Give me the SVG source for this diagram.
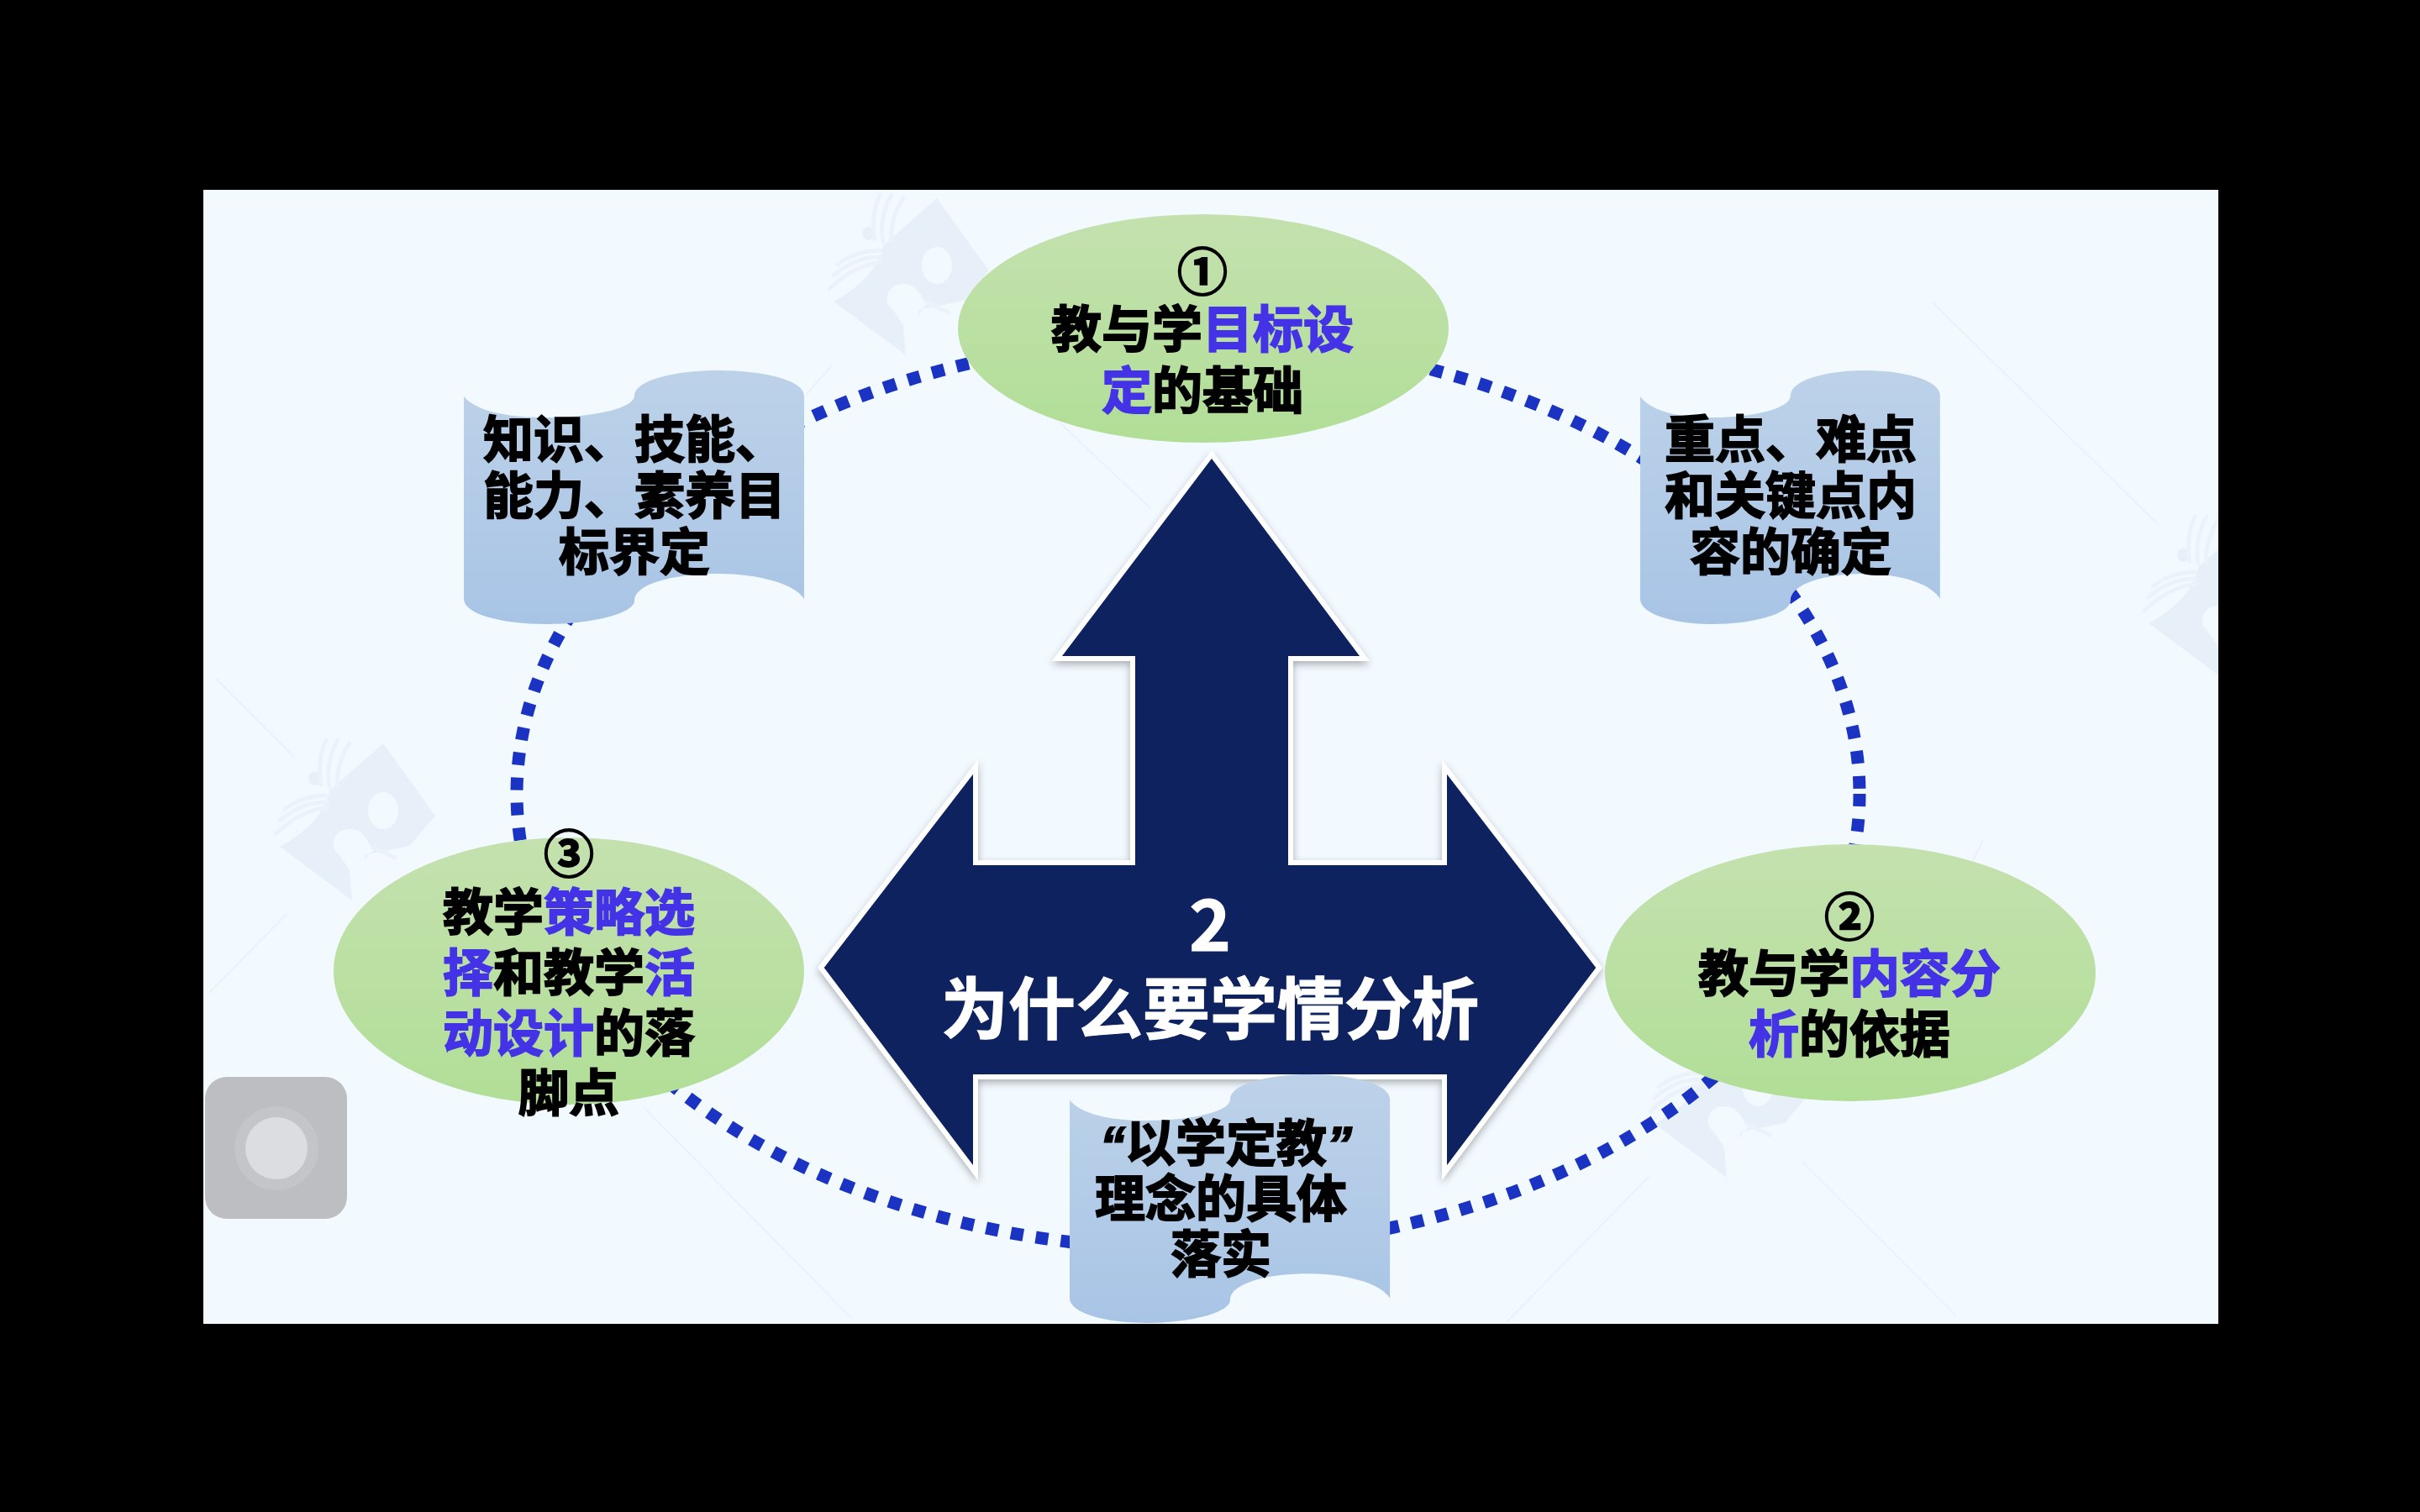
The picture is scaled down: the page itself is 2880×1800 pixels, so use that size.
<svg xmlns="http://www.w3.org/2000/svg" width="2880" height="1800" viewBox="0 0 2880 1800">
<style>
.t{font-family:"Noto Sans CJK SC","Noto Sans",sans-serif;font-weight:700;font-size:60px;text-anchor:middle;fill:#000;stroke:#000;stroke-width:1.8px}
.b{fill:#4433e6;stroke:#4433e6}
.q{font-family:"Liberation Sans",sans-serif;font-style:italic}
.w{fill:#fff;stroke:#fff;stroke-width:1.2px;font-size:80px}
.e{fill:url(#g)}
.d{fill:url(#p)}
.wm{fill:#e7f0f8}
.wf{fill:none;stroke:#ebf2f9;stroke-width:5;stroke-linecap:round}
.wh{fill:#f3faff}
.wl{fill:none;stroke:#ebf1f6;stroke-width:2}
</style>
<defs>
<linearGradient id="g" x1="0" y1="0" x2="0" y2="1"><stop offset="0" stop-color="#c4e1ae"/><stop offset="1" stop-color="#b1de97"/></linearGradient>
<linearGradient id="p" x1="0" y1="0" x2="0" y2="1"><stop offset="0" stop-color="#bdd2e9"/><stop offset="1" stop-color="#a8c4e5"/></linearGradient>
<filter id="s" x="-5%" y="-5%" width="110%" height="110%"><feDropShadow dx="0" dy="4" stdDeviation="5" flood-color="#000" flood-opacity=".3"/></filter>
<clipPath id="slide"><rect x="242" y="226" width="2398" height="1350"/></clipPath>
<path id="doc" d="M0 31C14 48 50 56 98 56C150 56 203 46 203 30C203 12 250 0 303 0C358 0 405 12 405 30V272C394 254 350 242 303 242C250 242 203 254 203 274C203 290 150 302 98 302C45 302 0 290 0 272Z"/>
<g id="mk">
<path class="wm" d="M30 -94L92 -8L62 28L12 38L-7 93L-93 29C-62 12 -38 -12 -34 -38Z"/>
<circle class="wm" cx="-51" cy="-52" r="8"/>
<path class="wf" d="M-88 -15C-72 -28 -52 -32 -38 -32M-93 -2C-75 -18 -55 -24 -38 -24M-98 14C-78 -6 -55 -16 -36 -18M-44 -45C-48 -65 -44 -85 -38 -98M-34 -42C-38 -62 -32 -85 -24 -98M-24 -44C-26 -60 -20 -80 -10 -94"/>
<ellipse class="wh" cx="30" cy="-14" rx="18" ry="22"/>
<path class="wh" d="M-10 8C-26 8 -32 22 -28 32C-20 42 -14 50 -10 58L-7 93L12 60L8 40L18 34C10 18 4 8 -10 8Z"/>
<path class="wf" d="M18 30L44 42" stroke-width="2"/>
</g>
</defs>
<rect width="2880" height="1800" fill="#000"/>
<rect x="242" y="226" width="2398" height="1350" fill="#f3faff"/>
<g id="background" clip-path="url(#slide)">
<path class="wl" d="M257 808L349 900M249 1182L342 1087M766 1318L1014 1570M1261 503L1370 606M991 434L960 469M2145 1383L2328 1566M1963 1400L1793 1574M2360 1000L2311 1100M2300 360L2567 623"/>
<use href="#mk" x="1085" y="330"/>
<use href="#mk" x="426" y="979"/>
<use href="#mk" x="2062" y="1309"/>
<use href="#mk" x="2650" y="713"/>
</g>
<g id="connectors">
<ellipse cx="1414" cy="945" rx="799" ry="542" fill="none" stroke="#1b33c2" stroke-width="15" stroke-dasharray="15 15"/>
</g>
<g id="center-arrow">
<path d="M1442 541L1624 784H1536V1027H1719V913L1903 1152L1719 1396V1282H1161V1396L977 1152L1161 913V1027H1348V784H1258Z" fill="#0c205e" stroke="#fff" stroke-width="6" filter="url(#s)"/>
<text class="t w" x="1440" y="1132" style="font-size:84px">2</text>
<text class="t w" x="1440" y="1230">为什么要学情分析</text>
</g>
<g id="goal">
<ellipse class="e" cx="1432" cy="391" rx="292" ry="136"/>
<text class="t" x="1431" y="346">①</text>
<text class="t" x="1431" y="414">教与学<tspan class="b">目标设</tspan></text>
<text class="t" x="1431" y="487"><tspan class="b">定</tspan>的基础</text>
</g>
<g id="content">
<ellipse class="e" cx="2202" cy="1158" rx="292" ry="153"/>
<text class="t" x="2201" y="1114">②</text>
<text class="t" x="2201" y="1181">教与学<tspan class="b">内容分</tspan></text>
<text class="t" x="2201" y="1253"><tspan class="b">析</tspan>的依据</text>
</g>
<g id="strategy">
<ellipse class="e" cx="677" cy="1156" rx="280" ry="159"/>
<text class="t" x="677" y="1039">③</text>
<text class="t" x="677" y="1108">教学<tspan class="b">策略选</tspan></text>
<text class="t" x="677" y="1180"><tspan class="b">择</tspan>和教学<tspan class="b">活</tspan></text>
<text class="t" x="677" y="1252"><tspan class="b">动设计</tspan>的落</text>
<text class="t" x="677" y="1323">脚点</text>
</g>
<g id="doc-objectives">
<use href="#doc" class="d" transform="translate(552 441)"/>
<text class="t" x="755" y="545">知识、技能、</text>
<text class="t" x="755" y="612">能力、素养目</text>
<text class="t" x="755" y="679">标界定</text>
</g>
<g id="doc-keypoints">
<use href="#doc" class="d" transform="translate(1952 441) scale(.881 1)"/>
<text class="t" x="2131" y="545">重点、难点</text>
<text class="t" x="2131" y="612">和关键点内</text>
<text class="t" x="2131" y="679">容的确定</text>
</g>
<g id="doc-philosophy">
<use href="#doc" class="d" transform="translate(1273 1279) scale(.941 .98)"/>
<text class="t" x="1459" y="1383"><tspan class="q">“</tspan>以学定教<tspan class="q">”</tspan></text>
<text class="t" x="1453" y="1449">理念的具体</text>
<text class="t" x="1453" y="1515">落实</text>
</g>
<g id="overlay-button">
<rect x="244" y="1282" width="169" height="169" rx="26" fill="#bcbec2"/>
<circle cx="329" cy="1367" r="50" fill="#c4c5c9"/>
<circle cx="329" cy="1367" r="37" fill="#dcdde0"/>
</g>
</svg>
